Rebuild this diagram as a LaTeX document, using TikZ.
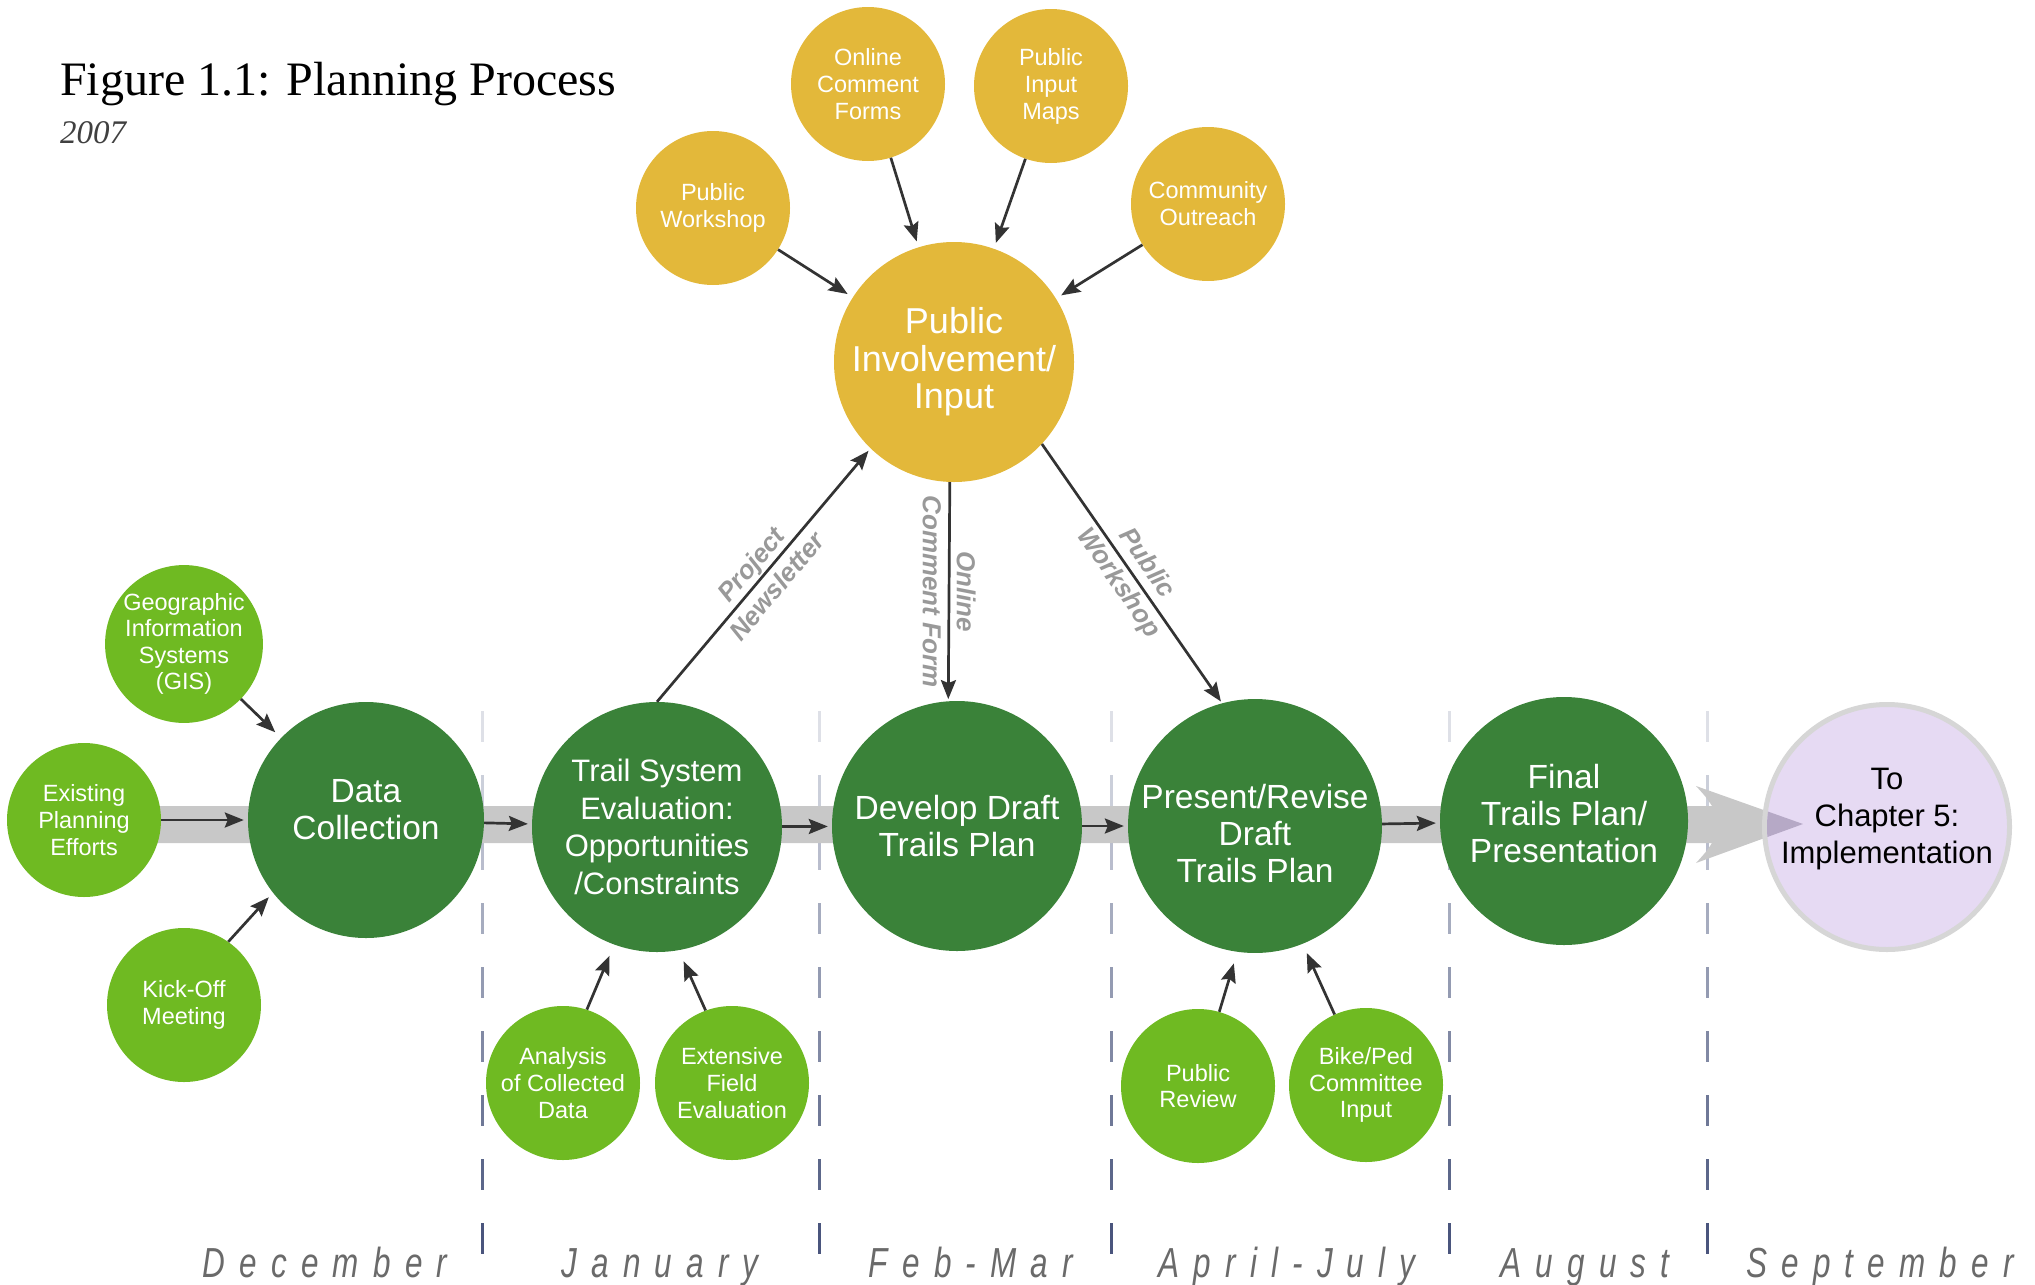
\documentclass[tikz,border=0pt]{standalone}
\usepackage{fontspec}
\usepackage{graphicx}
\setmainfont{Liberation Sans}
\newfontfamily\titlefont{Liberation Serif}
\usetikzlibrary{arrows.meta}

\definecolor{stagegreen}{HTML}{3A8239}
\definecolor{leafgreen}{HTML}{6FBA22}
\definecolor{gold}{HTML}{E3B83A}
\definecolor{lilac}{HTML}{E6DAF3}
\definecolor{ringgrey}{HTML}{D6D6D6}
\definecolor{bandgrey}{HTML}{C8C8C8}
\definecolor{overlap}{HTML}{B6A9C6}
\definecolor{arrowgrey}{HTML}{333333}
\definecolor{labelgrey}{HTML}{999999}
\definecolor{monthgrey}{HTML}{6A6A6A}
\definecolor{dashnavy}{HTML}{46527A}

\newcommand{\monthtext}[1]{\scalebox{0.75}[1]{#1}}
% lift / drop a circle's text with an empty last / first line
\newcommand{\lift}[1]{\\[-#1pt]\mbox{}}
\newcommand{\drop}[1]{\mbox{}\\[#1pt]}

\begin{document}
\begin{tikzpicture}[x=1pt,y=-1pt]
        \tikzstyle{stage}=[circle,fill=stagegreen,text=white,minimum size=250pt,inner sep=0pt,align=center,font=\fontsize{33.5}{37}\selectfont]
        \tikzstyle{input}=[circle,fill=leafgreen,text=white,minimum size=154pt,inner sep=0pt,align=center,font=\fontsize{23.5}{26.6}\selectfont]
        \tikzstyle{public}=[circle,fill=gold,text=white,minimum size=154pt,inner sep=0pt,align=center,font=\fontsize{23.5}{27}\selectfont]
        \tikzstyle{feed}=[draw=arrowgrey,line width=2.7pt,-{Stealth[length=19pt,width=15pt,inset=3pt]}]
        \tikzstyle{via}=[font=\bfseries\itshape\fontsize{26}{34}\selectfont,text=labelgrey,align=center]
        \tikzstyle{month}=[anchor=base,inner sep=0pt,text=monthgrey,font=\itshape\fontsize{42}{42}\selectfont\addfontfeatures{LetterSpace=45}]

        \useasboundingbox (0,0) rectangle (2035,1285);

        % title
        \node [anchor=base west,inner sep=0pt,font=\titlefont\fontsize{48}{48}\selectfont] (title) at (60,95) {Figure 1.1: Planning Process};
        \node [anchor=base west,inner sep=0pt,text=black!75,font=\titlefont\itshape\fontsize{33}{33}\selectfont] (year) at (60,143) {2007};

        % month separators
        \foreach \xs in {482,819,1111,1449,1707}
          \foreach \k in {0,...,8}{
            \pgfmathsetmacro\shade{18+10*\k}
            \draw [dashnavy!\shade,line width=3pt] (\xs,711+64*\k) -- ++(0,31);
          }

        % time band
        \def\bandpath{(140,806) -- (1712,806) .. controls (1706,797) .. (1696,786) -- (1803,824) -- (1696,863) .. controls (1706,852) .. (1712,843) -- (140,843) -- cycle}
        \fill [bandgrey] \bandpath;

        \node [circle,fill=lilac,draw=ringgrey,line width=5pt,minimum size=245pt,inner sep=0pt,align=center,font=\fontsize{31}{37}\selectfont] (impl) at (1887,827) {To\\Chapter 5:\\Implementation\lift{15}};
        \begin{scope}
          \clip (impl.center) circle [radius=120];
          \fill [overlap] \bandpath;
        \end{scope}

        % stages
        \node [stage,minimum size=236pt] (dc) at (366,820) {Data\\Collection\lift{15}};
        \node [stage,font=\fontsize{31}{37.6}\selectfont] (trail) at (657,827) {Trail System\\Evaluation:\\Opportunities\\/Constraints};
        \node [stage] (dev) at (957,826) {Develop Draft\\Trails Plan};
        \node [stage] (pres) at (1255,826) {\drop{3}Present/Revise\\Draft\\Trails Plan};
        \node [stage,minimum size=248pt] (final) at (1564,821) {Final\\Trails Plan/\\Presentation\lift{22}};

        \node [public,minimum size=240pt,font=\fontsize{36}{37.6}\selectfont] (pi) at (954,362) {Public\\Involvement/\\Input};

        % inputs
        \node [input] (gis) at (184,644) {Geographic\\Information\\Systems\\(GIS)};
        \node [input] (exist) at (84,820) {Existing\\Planning\\Efforts};
        \node [input] (kick) at (184,1005) {Kick-Off\\Meeting};
        \node [input] (ana) at (563,1083) {Analysis\\of Collected\\Data};
        \node [input] (ext) at (732,1083) {Extensive\\Field\\Evaluation};
        \node [input] (review) at (1198,1086) {Public\\Review};
        \node [input] (bike) at (1366,1085) {Bike/Ped\\Committee\\Input};

        \node [public] (ws) at (713,208) {Public\\Workshop};
        \node [public] (forms) at (868,84) {Online\\Comment\\Forms};
        \node [public] (maps) at (1051,86) {Public\\Input\\Maps};
        \node [public] (reach) at (1208,204) {Community\\Outreach};

        % connectors along the band
        \draw [feed,shorten >=4pt] (exist) -- (dc);
        \draw [feed,shorten >=4pt] (dc) -- (trail);
        \draw [feed,shorten >=4pt] (trail) -- (dev);
        \draw [feed,shorten >=4pt] (dev) -- (pres);
        \draw [feed,shorten >=4pt] (pres) -- (final);

        \draw [feed,shorten >=8pt] (gis) -- (dc);
        \draw [feed,shorten >=6pt] (kick.55) -- (dc.218);
        \draw [feed,shorten >=12pt] (ana.72) -- (trail.250);
        \draw [feed,shorten >=12pt] (ext.110) -- (trail.280);
        \draw [feed,shorten >=12pt] (review.74) -- (pres.262);
        \draw [feed,shorten >=10pt] (bike.114) -- (pres.292);

        \draw [feed,shorten >=6pt] (ws) -- (pi);
        \draw [feed,shorten >=6pt] (forms) -- (pi);
        \draw [feed,shorten >=6pt] (maps) -- (pi);
        \draw [feed,shorten >=6pt] (reach) -- (pi);

        \draw [feed,shorten >=3pt] (trail.north) -- node [via,sloped] {Project\\Newsletter} (pi.226);
        \draw [feed,shorten >=2pt] (pi.268) -- node [via,rotate=-90] {Online\\Comment Form} (dev.94);
        \draw [feed,shorten >=2pt] (pi.-43) -- node [via,sloped] {Public\\Workshop} (pres.105);

        % months
        \node [month] (dec) at (325,1277) {\monthtext{December}};
        \node [month] (jan) at (660,1277) {\monthtext{January}};
        \node [month] (feb) at (971,1277) {\monthtext{Feb-Mar}};
        \node [month] (apr) at (1287,1277) {\monthtext{April-July}};
        \node [month] (aug) at (1585,1277) {\monthtext{August}};
        \node [month] (sep) at (1880,1277) {\monthtext{September}};
\end{tikzpicture}
\end{document}
